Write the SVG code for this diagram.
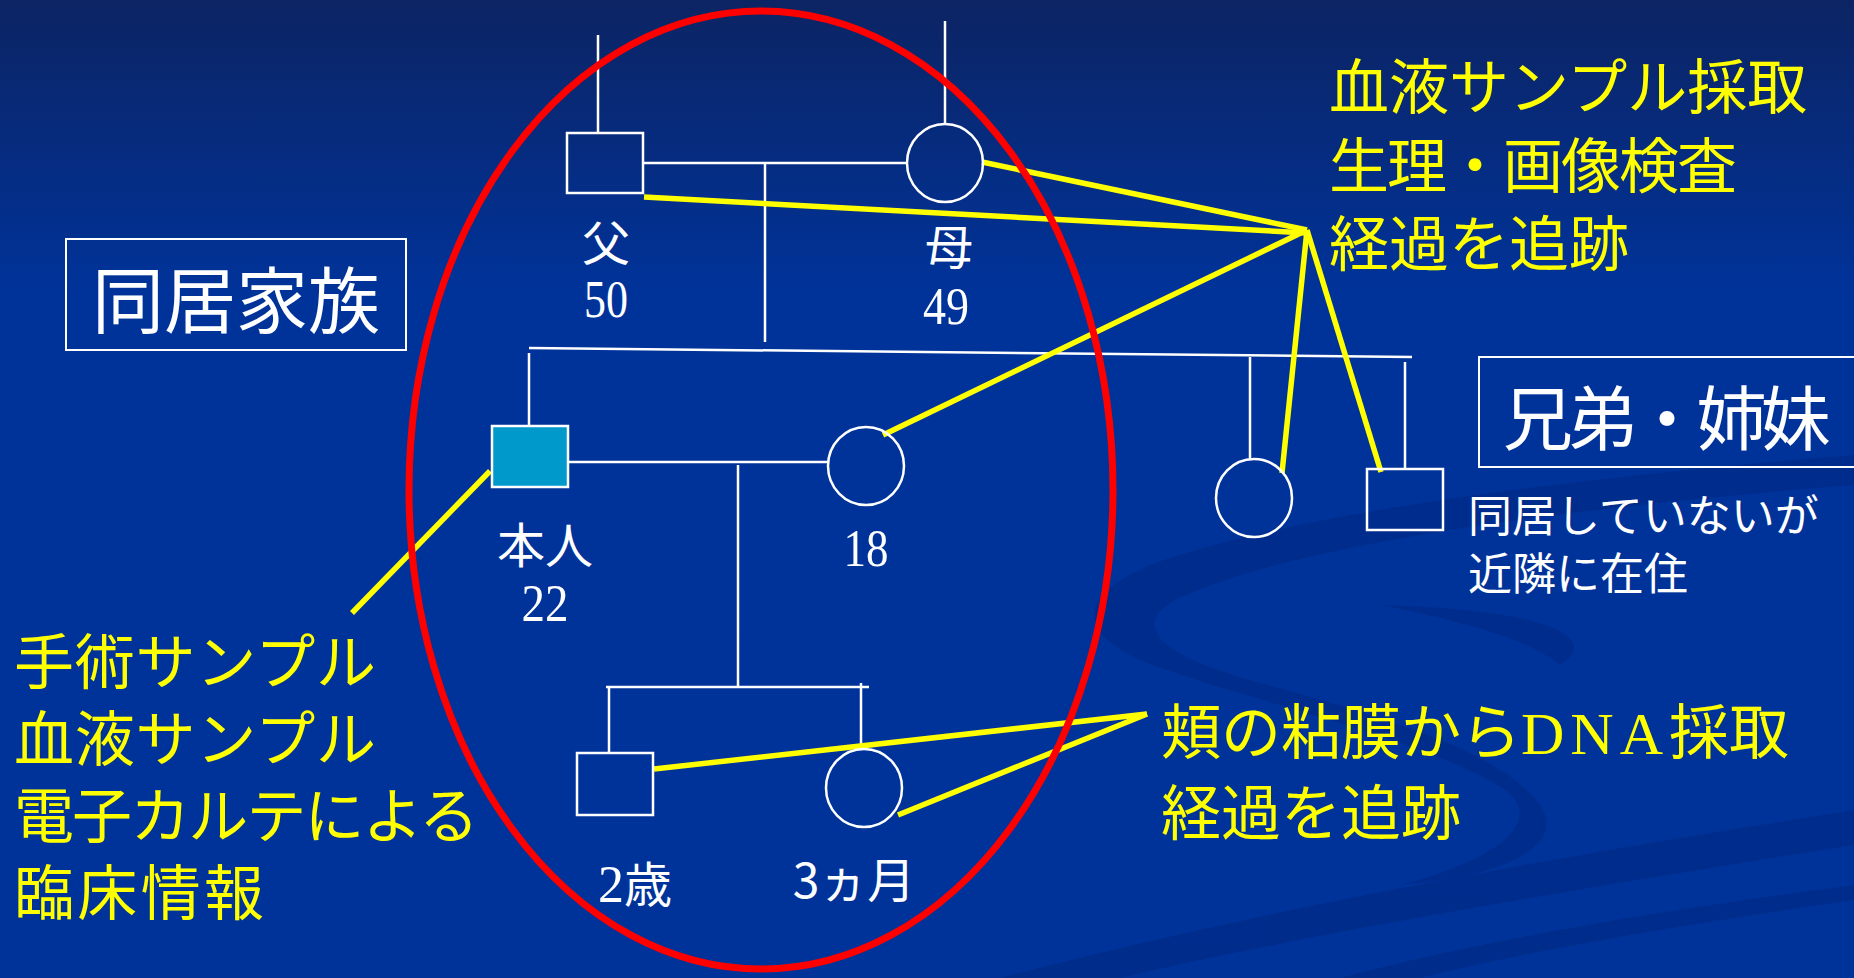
<svg xmlns="http://www.w3.org/2000/svg" width="1854" height="978" viewBox="0 0 1854 978">
<defs>
<linearGradient id="bg" x1="0" y1="0" x2="0" y2="1">
<stop offset="0" stop-color="#0c2463"/>
<stop offset="0.3" stop-color="#00339a"/>
<stop offset="1" stop-color="#003399"/>
</linearGradient>
<style>
.w{stroke:#ffffff;stroke-width:2.5;fill:none}
.y{stroke:#ffff00;stroke-width:5.5;fill:none}
.lbl{font-family:"Noto Sans CJK JP","Noto Sans",sans-serif;fill:#ffffff;font-size:48px;text-anchor:middle}
.num{font-family:"Liberation Serif",serif;fill:#ffffff;font-size:52px;text-anchor:middle}
.yt{font-family:"Noto Sans CJK JP","Noto Sans",sans-serif;fill:#ffff00}
.wt{font-family:"Noto Sans CJK JP","Noto Sans",sans-serif;fill:#ffffff}
.sw{fill:#00287f;opacity:0.5}
</style>
</defs>
<rect x="0" y="0" width="1854" height="978" fill="url(#bg)"/>
<g id="background-swoosh">
<path class="sw" d="M1854,455 C1600,475 1300,510 1150,565 C1080,595 1075,630 1140,660 C1240,700 1420,735 1505,790 C1545,820 1500,860 1400,885 C1520,875 1565,840 1540,805 C1500,750 1380,715 1250,680 C1160,655 1130,625 1175,600 C1300,540 1600,505 1854,485 Z"/>
<path class="sw" d="M1380,605 C1460,620 1530,640 1560,665 C1600,640 1560,610 1380,605 Z"/>
<path class="sw" d="M1000,978 C1300,900 1600,850 1854,810 L1854,845 C1600,885 1300,935 1120,978 Z"/>
<path class="sw" d="M1340,978 C1500,935 1700,905 1854,885 L1854,900 C1700,922 1520,952 1420,978 Z"/>
</g>
<g id="connectors">
<line class="w" x1="598" y1="35" x2="598" y2="133"/>
<line class="w" x1="945" y1="21" x2="945" y2="124"/>
<line class="w" x1="643" y1="163" x2="907" y2="163"/>
<line class="w" x1="765" y1="163" x2="765" y2="342"/>
<line class="w" x1="529" y1="348" x2="1412" y2="357"/>
<line class="w" x1="529" y1="353" x2="529" y2="426"/>
<line class="w" x1="1250" y1="357" x2="1250" y2="459"/>
<line class="w" x1="1405" y1="362" x2="1405" y2="469"/>
<line class="w" x1="568" y1="462" x2="828" y2="462"/>
<line class="w" x1="738" y1="465" x2="738" y2="687"/>
<line class="w" x1="606" y1="687" x2="869" y2="687"/>
<line class="w" x1="609" y1="687" x2="609" y2="753"/>
<line class="w" x1="861" y1="683" x2="861" y2="749"/>
<line class="y" x1="644" y1="197" x2="1307" y2="233"/>
<line class="y" x1="982" y1="162" x2="1307" y2="230"/>
<line class="y" x1="883" y1="435" x2="1307" y2="230"/>
<line class="y" x1="1307" y1="230" x2="1282" y2="473"/>
<line class="y" x1="1307" y1="230" x2="1381" y2="472"/>
<line class="y" x1="490" y1="471" x2="352" y2="613"/>
<line class="y" x1="654" y1="769" x2="1147" y2="714"/>
<line class="y" x1="898" y1="815" x2="1147" y2="714"/>
</g>
<g id="father">
<rect class="w" x="567" y="133" width="76" height="60"/>
<text class="lbl" x="606" y="261">父</text>
<text class="num" x="606" y="317" textLength="44" lengthAdjust="spacingAndGlyphs">50</text>
</g>
<g id="mother">
<ellipse class="w" cx="945" cy="163" rx="38" ry="39"/>
<text class="lbl" x="949" y="265">母</text>
<text class="num" x="946" y="324" textLength="46" lengthAdjust="spacingAndGlyphs">49</text>
</g>
<g id="proband">
<rect x="492" y="426" width="76" height="61" fill="#0099cc" stroke="#ffffff" stroke-width="2.5"/>
<text class="lbl" x="545" y="563">本人</text>
<text class="num" x="545" y="621" textLength="47" lengthAdjust="spacingAndGlyphs">22</text>
</g>
<g id="spouse">
<ellipse class="w" cx="866" cy="466" rx="38" ry="39"/>
<text class="num" x="866" y="566" textLength="45" lengthAdjust="spacingAndGlyphs">18</text>
</g>
<g id="child-son">
<rect class="w" x="577" y="753" width="76" height="62"/>
<text class="lbl" x="635" y="902"><tspan font-family="Liberation Serif, serif" font-size="52">2</tspan>歳</text>
</g>
<g id="child-daughter">
<ellipse class="w" cx="864" cy="788" rx="38" ry="39"/>
<text class="lbl" x="854" y="898">3ヵ月</text>
</g>
<g id="sibling-sister">
<ellipse class="w" cx="1254" cy="498" rx="38" ry="39"/>
</g>
<g id="sibling-brother">
<rect class="w" x="1367" y="469" width="76" height="61"/>
</g>
<g id="label-family">
<rect x="66" y="239" width="340" height="111" fill="none" stroke="#ffffff" stroke-width="2"/>
<text class="wt" x="236" y="327" font-size="72" text-anchor="middle">同居家族</text>
</g>
<g id="label-siblings">
<rect x="1479" y="357" width="400" height="110" fill="none" stroke="#ffffff" stroke-width="2"/>
<text class="wt" font-size="70" x="1503" y="445" textLength="328">兄弟・姉妹</text>
<text class="wt" font-size="44" x="1468" y="532">同居していないが</text>
<text class="wt" font-size="44" x="1468" y="590">近隣に在住</text>
</g>
<g id="note-parents">
<text class="yt" font-size="60" x="1329" y="109">血液サンプル採取</text>
<text class="yt" font-size="60" x="1329" y="188" textLength="408">生理・画像検査</text>
<text class="yt" font-size="60" x="1329" y="266">経過を追跡</text>
</g>
<g id="note-proband">
<text class="yt" font-size="60" x="14" y="684" textLength="362">手術サンプル</text>
<text class="yt" font-size="60" x="14" y="761" textLength="362">血液サンプル</text>
<text class="yt" font-size="60" x="14" y="838" textLength="465">電子カルテによる</text>
<text class="yt" font-size="60" x="14" y="915" textLength="250">臨床情報</text>
</g>
<g id="note-children">
<text class="yt" font-size="60" x="1161" y="754">頬の粘膜から<tspan font-family="Liberation Serif, serif" letter-spacing="6">DNA</tspan>採取</text>
<text class="yt" font-size="60" x="1161" y="835">経過を追跡</text>
</g>
<g id="household-ellipse">
<ellipse cx="761" cy="490" rx="352" ry="479" fill="none" stroke="#ff0000" stroke-width="7"/>
</g>
</svg>
